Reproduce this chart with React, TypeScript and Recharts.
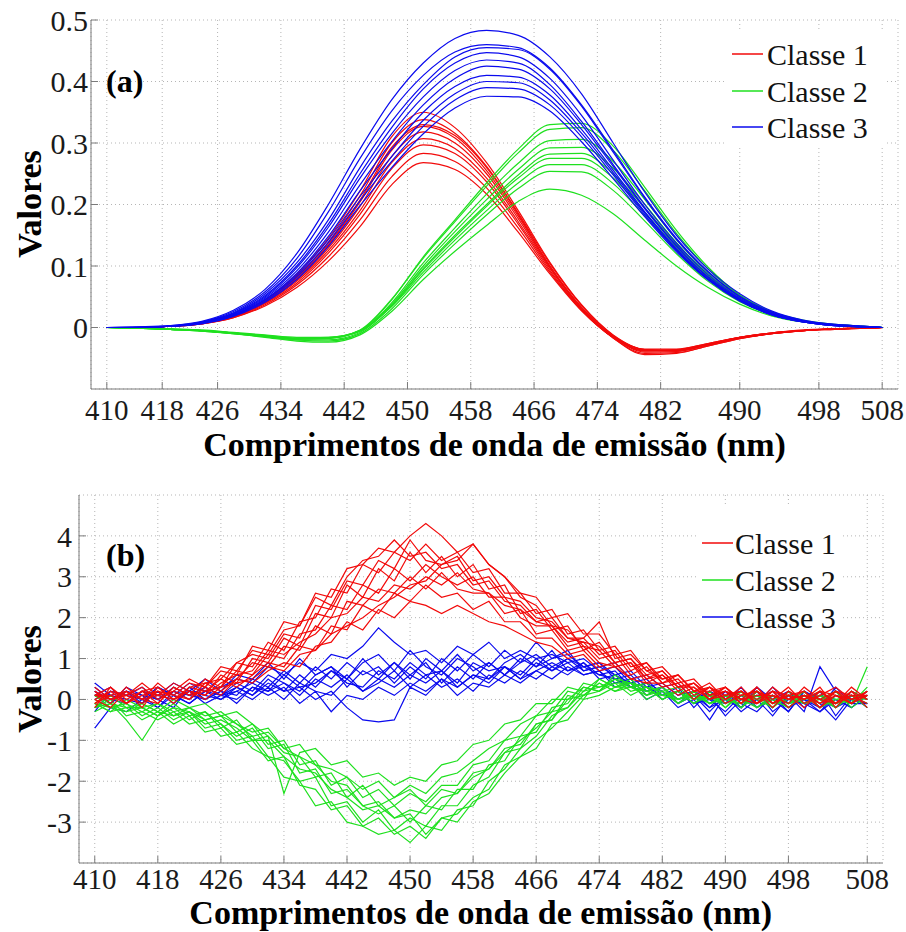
import React from "react"
import { LineChart, Line, XAxis, YAxis, CartesianGrid, Legend } from "recharts"

const FONT = "'Liberation Serif', Tinos, FreeSerif, serif"
const RED = "#f20a0a"
const GREEN = "#1fe01f"
const BLUE = "#0a0aee"
const FRAME = "#7a7a7a"
const GRID = "#b5b5b5"

// ---- panel (a): spectra sampled by variable index, axis labelled in nm at those index positions
const idxA = [0, 2, 4, 6, 8, 10, 12, 14, 16, 18, 20, 22, 24, 26, 28, 30, 32, 34, 36, 38, 40, 42, 44, 46, 48, 49]
const tickIdxA = [0, 3.5, 7, 11, 15, 19, 23, 27, 31, 35, 40, 45, 49]
const tickNm = [410, 418, 426, 434, 442, 450, 458, 466, 474, 482, 490, 498, 508]
const yTicksA = [0, 0.1, 0.2, 0.3, 0.4, 0.5]

const classe1A = [
  [0, 0, 0.002, 0.008, 0.02, 0.045, 0.087, 0.145, 0.222, 0.31, 0.35, 0.325, 0.268, 0.19, 0.106, 0.037, -0.012, -0.036, -0.038, -0.028, -0.017, -0.01, -0.005, -0.003, -0.001, 0],
  [0, 0, 0.002, 0.008, 0.02, 0.044, 0.083, 0.139, 0.214, 0.3, 0.338, 0.316, 0.262, 0.186, 0.104, 0.036, -0.013, -0.036, -0.037, -0.027, -0.016, -0.009, -0.005, -0.002, -0.001, 0],
  [0, 0, 0.002, 0.007, 0.019, 0.042, 0.079, 0.133, 0.204, 0.288, 0.327, 0.308, 0.255, 0.181, 0.1, 0.033, -0.014, -0.037, -0.036, -0.026, -0.016, -0.009, -0.005, -0.002, -0.001, 0],
  [0, 0, 0.002, 0.007, 0.018, 0.041, 0.077, 0.129, 0.197, 0.278, 0.318, 0.3, 0.25, 0.177, 0.098, 0.032, -0.015, -0.04, -0.039, -0.028, -0.017, -0.01, -0.005, -0.002, -0.001, 0],
  [0, 0, 0.002, 0.007, 0.018, 0.04, 0.075, 0.125, 0.19, 0.268, 0.307, 0.291, 0.243, 0.172, 0.096, 0.03, -0.016, -0.038, -0.037, -0.027, -0.016, -0.009, -0.005, -0.003, -0.001, 0],
  [0, 0, 0.002, 0.006, 0.017, 0.039, 0.072, 0.121, 0.184, 0.258, 0.297, 0.283, 0.237, 0.168, 0.093, 0.029, -0.017, -0.042, -0.041, -0.03, -0.018, -0.01, -0.005, -0.002, -0.001, 0],
  [0, 0, 0.002, 0.006, 0.016, 0.037, 0.069, 0.115, 0.175, 0.245, 0.283, 0.27, 0.227, 0.162, 0.09, 0.028, -0.016, -0.038, -0.038, -0.028, -0.017, -0.01, -0.005, -0.002, -0.001, 0],
  [0, 0, 0.002, 0.006, 0.016, 0.035, 0.065, 0.108, 0.164, 0.232, 0.268, 0.257, 0.217, 0.155, 0.087, 0.027, -0.016, -0.035, -0.035, -0.026, -0.016, -0.009, -0.004, -0.002, -0.001, 0],
  [0, 0, 0.002, 0.007, 0.019, 0.043, 0.081, 0.135, 0.207, 0.293, 0.33, 0.312, 0.26, 0.184, 0.1, 0.031, -0.017, -0.044, -0.042, -0.03, -0.018, -0.01, -0.005, -0.002, -0.001, 0],
]

const classe2A = [
  [0, -0.001, -0.003, -0.006, -0.01, -0.015, -0.019, -0.018, -0.005, 0.045, 0.115, 0.175, 0.235, 0.29, 0.33, 0.332, 0.295, 0.228, 0.158, 0.098, 0.053, 0.026, 0.012, 0.005, 0.002, 0],
  [0, -0.001, -0.002, -0.005, -0.009, -0.014, -0.018, -0.017, -0.004, 0.046, 0.113, 0.172, 0.23, 0.284, 0.322, 0.325, 0.288, 0.222, 0.153, 0.095, 0.052, 0.025, 0.011, 0.004, 0.001, 0],
  [0, -0.001, -0.003, -0.005, -0.009, -0.014, -0.018, -0.017, -0.006, 0.04, 0.105, 0.162, 0.217, 0.267, 0.304, 0.306, 0.27, 0.208, 0.143, 0.088, 0.049, 0.024, 0.011, 0.004, 0.001, 0],
  [0, -0.001, -0.003, -0.005, -0.009, -0.013, -0.017, -0.016, -0.005, 0.038, 0.1, 0.156, 0.208, 0.257, 0.292, 0.293, 0.259, 0.2, 0.138, 0.085, 0.047, 0.023, 0.01, 0.004, 0.001, 0],
  [0, -0.001, -0.003, -0.005, -0.009, -0.013, -0.018, -0.017, -0.006, 0.035, 0.094, 0.147, 0.197, 0.243, 0.275, 0.275, 0.243, 0.187, 0.13, 0.081, 0.045, 0.022, 0.01, 0.004, 0.001, 0],
  [0, -0.001, -0.002, -0.004, -0.008, -0.012, -0.016, -0.016, -0.005, 0.034, 0.09, 0.142, 0.19, 0.235, 0.265, 0.265, 0.234, 0.181, 0.126, 0.079, 0.044, 0.022, 0.01, 0.004, 0.001, 0],
  [0, -0.001, -0.003, -0.005, -0.009, -0.014, -0.02, -0.022, -0.01, 0.03, 0.086, 0.136, 0.183, 0.226, 0.254, 0.253, 0.223, 0.173, 0.12, 0.075, 0.042, 0.021, 0.01, 0.004, 0.001, 0],
  [0, -0.001, -0.003, -0.006, -0.01, -0.016, -0.022, -0.024, -0.012, 0.026, 0.078, 0.124, 0.166, 0.205, 0.225, 0.215, 0.185, 0.142, 0.1, 0.065, 0.038, 0.019, 0.009, 0.004, 0.001, 0],
  [0, -0.001, -0.003, -0.005, -0.01, -0.015, -0.02, -0.02, -0.008, 0.036, 0.096, 0.15, 0.2, 0.248, 0.282, 0.283, 0.25, 0.194, 0.135, 0.084, 0.046, 0.023, 0.01, 0.004, 0.001, 0],
]

const classe3A = [
  [0, 0, 0.003, 0.01, 0.028, 0.062, 0.12, 0.2, 0.29, 0.37, 0.43, 0.47, 0.483, 0.475, 0.44, 0.38, 0.3, 0.22, 0.15, 0.095, 0.055, 0.027, 0.012, 0.005, 0.002, 0],
  [0, 0, 0.002, 0.009, 0.026, 0.058, 0.112, 0.188, 0.275, 0.352, 0.41, 0.448, 0.46, 0.455, 0.422, 0.362, 0.288, 0.212, 0.145, 0.091, 0.051, 0.025, 0.011, 0.004, 0.001, 0],
  [0, 0, 0.002, 0.009, 0.024, 0.055, 0.105, 0.175, 0.26, 0.335, 0.395, 0.44, 0.455, 0.452, 0.42, 0.36, 0.285, 0.21, 0.143, 0.09, 0.05, 0.025, 0.011, 0.004, 0.001, 0],
  [0, 0.001, 0.003, 0.009, 0.023, 0.052, 0.1, 0.168, 0.25, 0.325, 0.388, 0.43, 0.447, 0.44, 0.405, 0.345, 0.272, 0.2, 0.137, 0.086, 0.048, 0.024, 0.011, 0.005, 0.002, 0],
  [0, 0, 0.002, 0.008, 0.022, 0.05, 0.097, 0.163, 0.243, 0.315, 0.375, 0.418, 0.435, 0.43, 0.395, 0.335, 0.265, 0.195, 0.133, 0.082, 0.046, 0.022, 0.01, 0.004, 0.001, 0],
  [0, 0, 0.002, 0.008, 0.021, 0.048, 0.092, 0.155, 0.232, 0.302, 0.362, 0.405, 0.425, 0.42, 0.388, 0.33, 0.262, 0.193, 0.132, 0.082, 0.046, 0.023, 0.01, 0.004, 0.001, 0],
  [0, 0, 0.002, 0.007, 0.02, 0.046, 0.088, 0.148, 0.222, 0.29, 0.35, 0.392, 0.41, 0.407, 0.378, 0.322, 0.256, 0.188, 0.128, 0.079, 0.044, 0.021, 0.009, 0.003, 0.001, 0],
  [0, 0.001, 0.002, 0.007, 0.02, 0.045, 0.085, 0.143, 0.213, 0.278, 0.337, 0.38, 0.4, 0.398, 0.37, 0.316, 0.252, 0.186, 0.127, 0.079, 0.044, 0.021, 0.009, 0.003, 0.001, 0],
  [0, 0, 0.002, 0.007, 0.019, 0.043, 0.082, 0.138, 0.206, 0.27, 0.327, 0.37, 0.39, 0.388, 0.362, 0.31, 0.248, 0.183, 0.125, 0.078, 0.043, 0.021, 0.009, 0.003, 0.001, 0],
  [0, 0, 0.002, 0.006, 0.018, 0.041, 0.078, 0.132, 0.198, 0.26, 0.315, 0.357, 0.376, 0.375, 0.352, 0.302, 0.242, 0.18, 0.123, 0.077, 0.043, 0.021, 0.009, 0.003, 0.001, 0],
]

// ---- panel (b): linear wavelength axis
const nmB = [
  410, 412, 414, 416, 418, 420, 422, 424, 426, 428,
  430, 432, 434, 436, 438, 440, 442, 444, 446, 448,
  450, 452, 454, 456, 458, 460, 462, 464, 466, 468,
  470, 472, 474, 476, 478, 480, 482, 484, 486, 488,
  490, 492, 494, 496, 498, 500, 502, 504, 506, 508,
]
const yTicksB = [-3, -2, -1, 0, 1, 2, 3, 4]

const classe1B = [
  [0.2, -0.1, 0.3, 0.0, 0.4, 0.1, 0.4, 0.3, 0.8, 0.7,
   1.2, 1.1, 1.7, 1.8, 2.6, 2.5, 3.2, 3.3, 3.7, 3.6,
   4.0, 4.3, 4.0, 3.6, 3.8, 3.3, 3.0, 2.6, 2.5, 2.0,
   2.1, 1.6, 1.6, 1.1, 1.2, 0.7, 0.8, 0.4, 0.5, 0.1,
   0.3, 0.0, 0.3, -0.1, 0.2, 0.0, 0.3, -0.2, 0.2, 0.0],
  [-0.2, 0.3, 0.0, 0.2, -0.1, 0.3, 0.1, 0.5, 0.3, 0.9,
   0.8, 1.4, 1.2, 1.9, 2.0, 2.7, 2.6, 3.3, 3.1, 3.6,
   3.4, 3.8, 3.4, 3.6, 3.1, 3.2, 2.6, 2.6, 2.1, 2.2,
   1.6, 1.7, 1.2, 1.3, 0.8, 0.9, 0.5, 0.6, 0.2, 0.4,
   0.0, 0.3, -0.1, 0.2, 0.1, -0.2, 0.2, 0.1, -0.1, 0.2],
  [0.1, 0.0, 0.2, -0.2, 0.3, 0.0, 0.2, 0.1, 0.6, 0.4,
   1.0, 0.9, 1.5, 1.3, 2.1, 2.0, 2.8, 2.5, 3.2, 2.9,
   3.6, 3.1, 3.5, 3.0, 3.3, 2.7, 2.8, 2.1, 2.2, 1.7,
   1.8, 1.2, 1.4, 0.9, 1.0, 0.5, 0.7, 0.3, 0.4, 0.0,
   0.3, -0.1, 0.2, 0.0, 0.3, -0.1, 0.1, 0.3, 0.0, 0.1],
  [-0.1, 0.2, -0.1, 0.1, 0.2, -0.1, 0.3, 0.2, 0.3, 0.7,
   0.6, 1.1, 1.0, 1.6, 1.7, 2.3, 2.2, 2.8, 2.6, 3.2,
   2.9, 3.3, 3.0, 2.8, 3.0, 2.5, 2.5, 2.0, 1.8, 1.8,
   1.3, 1.4, 1.0, 1.1, 0.6, 0.8, 0.4, 0.5, 0.1, 0.3,
   0.0, 0.2, 0.0, 0.2, -0.2, 0.1, -0.1, 0.2, 0.1, -0.1],
  [0.3, 0.0, 0.1, 0.3, 0.0, 0.2, 0.0, 0.4, 0.2, 0.5,
   0.9, 0.8, 1.3, 1.2, 1.8, 1.6, 2.4, 2.3, 2.7, 2.6,
   3.0, 2.7, 3.1, 2.7, 2.6, 2.6, 2.1, 2.2, 1.6, 1.7,
   1.2, 1.3, 0.9, 0.8, 0.9, 0.4, 0.6, 0.2, 0.4, 0.1,
   0.2, -0.1, 0.3, -0.1, 0.1, 0.2, -0.2, 0.1, -0.1, 0.2],
  [0.0, -0.2, 0.2, 0.0, -0.1, 0.3, 0.1, 0.2, 0.5, 0.3,
   0.6, 0.9, 0.8, 1.3, 1.2, 1.8, 1.7, 2.3, 2.1, 2.6,
   2.4, 2.8, 2.5, 2.6, 2.2, 2.4, 1.9, 1.9, 1.5, 1.5,
   1.1, 1.2, 0.8, 0.9, 0.5, 0.6, 0.3, 0.4, 0.0, 0.3,
   -0.1, 0.1, 0.2, -0.2, 0.2, 0.0, 0.2, -0.1, 0.2, -0.2],
  [0.1, 0.1, -0.1, 0.2, 0.1, 0.0, 0.2, 0.0, 0.3, 0.4,
   0.5, 0.8, 0.7, 1.1, 1.2, 1.6, 1.8, 2.0, 2.3, 2.5,
   2.8, 2.9, 3.3, 3.4, 3.8, 3.3, 3.0, 2.5, 2.3, 1.8,
   1.7, 1.3, 1.2, 0.8, 0.9, 0.5, 0.6, 0.3, 0.3, 0.0,
   0.2, 0.0, -0.1, 0.2, 0.0, 0.1, 0.0, 0.2, -0.1, 0.1],
  [0.0, 0.2, 0.1, -0.1, 0.2, 0.1, 0.0, 0.3, 0.1, 0.5,
   0.4, 0.7, 0.9, 0.8, 1.3, 1.4, 1.9, 1.7, 2.2, 2.0,
   2.4, 2.3, 2.1, 2.3, 2.1, 1.9, 1.8, 1.6, 1.4, 1.3,
   1.0, 1.1, 0.7, 0.8, 0.5, 0.4, 0.4, 0.1, 0.3, 0.0,
   0.1, 0.2, -0.1, 0.1, 0.0, 0.2, -0.1, 0.1, 0.0, 0.2],
  [0.1, 0.3, -0.1, 0.2, 0.3, 0.0, 0.3, 0.4, 0.5, 0.9,
   1.1, 1.0, 1.6, 1.5, 2.3, 2.2, 2.9, 2.8, 3.4, 3.2,
   3.9, 3.4, 3.3, 3.5, 2.9, 3.0, 2.5, 2.4, 2.0, 1.9,
   1.5, 1.5, 1.1, 1.2, 0.7, 0.9, 0.4, 0.6, 0.2, 0.3,
   0.1, 0.2, -0.1, 0.3, 0.0, 0.1, -0.2, 0.2, 0.0, 0.1],
  [-0.1, 0.1, 0.2, 0.0, 0.1, 0.4, 0.2, 0.1, 0.4, 0.6,
   0.7, 1.2, 1.1, 1.4, 1.6, 2.0, 2.1, 2.5, 2.4, 2.8,
   2.7, 3.0, 2.8, 3.1, 2.7, 2.6, 2.3, 2.2, 1.9, 1.8,
   1.4, 1.5, 1.9, 1.0, 1.1, 0.7, 0.5, 0.6, 0.2, 0.2,
   0.3, 0.0, 0.1, 0.1, -0.1, 0.3, 0.0, -0.1, 0.3, 0.0],
  [0.2, 0.0, 0.1, 0.4, 0.1, 0.2, 0.5, 0.3, 0.7, 0.6,
   1.3, 1.2, 1.9, 1.8, 2.5, 2.3, 3.0, 3.4, 3.5, 3.9,
   3.5, 3.6, 3.2, 3.3, 2.8, 2.9, 2.4, 2.3, 1.9, 2.0,
   1.5, 1.4, 1.3, 0.9, 1.0, 0.6, 0.7, 0.3, 0.4, 0.1,
   0.2, 0.1, 0.2, -0.1, 0.1, 0.0, 0.2, -0.1, 0.1, 0.1],
]

const classe2B = [
  [-0.2, 0.0, -0.4, -0.3, -0.5, -0.3, -0.6, -0.5, -0.9, -0.8,
   -1.2, -1.4, -1.9, -2.0, -2.6, -2.5, -3.0, -3.1, -3.3, -3.2,
   -3.5, -3.1, -3.2, -2.7, -2.6, -2.0, -1.7, -1.2, -0.9, -0.4,
   -0.2, 0.3, 0.2, 0.6, 0.3, 0.4, 0.1, 0.2, -0.1, 0.2,
   -0.2, 0.1, 0.0, -0.2, 0.2, -0.1, 0.1, -0.2, 0.1, -0.1],
  [0.1, -0.2, -0.1, -0.4, -0.2, -0.5, -0.3, -0.7, -0.6, -1.0,
   -0.9, -1.4, -1.5, -2.0, -1.9, -2.6, -2.5, -3.0, -2.7, -3.2,
   -2.9, -3.1, -2.6, -2.6, -2.1, -1.9, -1.3, -1.2, -0.6, -0.5,
   0.1, 0.0, 0.5, 0.3, 0.5, 0.1, 0.3, -0.1, 0.2, -0.1,
   0.1, -0.2, 0.2, 0.0, -0.2, 0.1, -0.1, 0.2, -0.2, 0.1],
  [-0.1, -0.3, 0.0, -0.2, -0.4, -0.1, -0.4, -0.3, -0.6, -0.9,
   -0.7, -1.2, -1.1, -1.8, -1.7, -2.3, -2.2, -2.6, -2.8, -2.6,
   -3.0, -2.6, -2.7, -2.2, -2.2, -1.6, -1.5, -0.9, -0.8, -0.2,
   -0.1, 0.4, 0.3, 0.5, 0.2, 0.3, 0.0, 0.2, 0.0, 0.1,
   -0.2, 0.2, -0.1, 0.1, -0.1, 0.2, -0.2, 0.0, 0.1, 0.0],
  [-0.3, -0.1, -0.5, -1.0, -0.4, -0.2, -0.3, -0.5, -0.4, -0.8,
   -0.6, -1.1, -1.0, -1.6, -1.5, -2.1, -1.9, -2.4, -2.2, -2.6,
   -2.3, -2.5, -2.1, -2.1, -1.6, -1.5, -1.0, -0.9, -0.4, -0.3,
   0.2, 0.1, 0.4, 0.2, 0.4, 0.0, 0.2, -0.1, 0.1, 0.0,
   0.1, -0.2, 0.1, -0.1, 0.0, 0.1, -0.2, 0.1, -0.1, 0.3],
  [0.0, -0.2, -0.1, -0.3, -0.1, -0.3, -0.2, -0.4, -0.3, -0.6,
   -0.8, -0.7, -1.2, -1.1, -1.6, -1.7, -1.9, -2.2, -2.0, -2.4,
   -2.1, -2.3, -1.9, -1.8, -1.5, -1.2, -1.0, -0.6, -0.4, 0.0,
   0.0, 0.3, 0.2, 0.4, 0.1, 0.3, 0.0, 0.2, -0.1, 0.1,
   0.0, -0.1, 0.2, -0.1, 0.1, 0.0, 0.2, -0.1, 0.0, 0.2],
  [-0.2, 0.1, -0.2, -0.1, -0.3, 0.0, -0.2, -0.1, -0.4, -0.3,
   -0.6, -0.9, -2.3, -1.3, -1.2, -1.6, -1.5, -1.9, -1.8, -2.1,
   -1.9, -2.0, -1.6, -1.5, -1.1, -1.0, -0.6, -0.5, -0.1, -0.1,
   0.3, 0.2, 0.5, 0.3, 0.3, 0.1, 0.2, 0.0, 0.1, -0.1,
   0.1, 0.0, -0.2, 0.1, -0.1, 0.1, 0.0, -0.2, 0.1, 0.0],
  [-0.1, -0.2, -0.3, -0.1, -0.3, -0.4, -0.2, -0.5, -0.4, -0.6,
   -0.9, -0.8, -1.2, -1.4, -1.6, -2.0, -2.1, -2.6, -2.5, -2.9,
   -2.8, -3.3, -2.9, -3.0, -2.5, -2.3, -1.8, -1.4, -1.2, -0.6,
   -0.5, 0.0, 0.1, 0.3, 0.4, 0.2, 0.3, 0.0, 0.2, -0.1,
   0.1, 0.0, 0.1, -0.2, 0.1, -0.1, 0.0, 0.2, -0.1, 0.8],
  [-0.2, -0.1, -0.3, -0.2, -0.1, -0.4, -0.3, -0.6, -0.5, -0.7,
   -1.0, -1.0, -1.4, -1.7, -1.8, -2.2, -2.4, -2.7, -2.6, -2.9,
   -2.7, -2.8, -2.4, -2.3, -1.9, -1.7, -1.3, -1.0, -0.7, -0.3,
   -0.2, 0.2, 0.3, 0.4, 0.4, 0.2, 0.1, 0.2, 0.0, 0.1,
   -0.1, 0.1, 0.0, 0.1, -0.1, 0.0, 0.1, -0.1, 0.1, -0.2],
  [0.1, -0.1, -0.2, -0.2, -0.4, -0.2, -0.5, -0.3, -0.7, -0.5,
   -1.0, -0.9, -1.3, -1.4, -1.9, -1.8, -2.4, -2.1, -2.6, -2.4,
   -2.2, -2.6, -2.2, -2.3, -1.8, -1.7, -1.2, -1.1, -0.6, -0.5,
   0.0, 0.1, 0.4, 0.2, 0.3, 0.2, 0.1, 0.0, 0.2, -0.1,
   0.0, 0.2, -0.2, 0.0, 0.1, -0.1, 0.1, 0.0, -0.1, 0.1],
  [-0.1, -0.3, -0.2, -0.5, -0.3, -0.6, -0.4, -0.8, -0.7, -1.1,
   -1.0, -1.5, -1.4, -2.1, -2.2, -2.7, -2.6, -3.1, -2.9, -3.3,
   -3.1, -3.4, -2.9, -2.8, -2.4, -2.2, -1.6, -1.4, -1.0, -0.7,
   -0.3, 0.1, 0.2, 0.5, 0.4, 0.3, 0.2, 0.3, 0.0, 0.1,
   0.0, -0.1, 0.1, 0.0, -0.2, 0.1, 0.0, -0.1, 0.2, 0.0],
]

const classe3B = [
  [0.3, 0.0, 0.2, -0.1, 0.3, 0.1, 0.4, 0.2, 0.3, 0.5,
   0.4, 0.8, 0.6, 0.9, 0.7, 1.1, 1.0, 1.3, 1.75, 1.4,
   1.1, 1.2, 0.9, 1.3, 1.1, 1.4, 1.0, 1.2, 1.0, 1.1,
   0.9, 1.0, 0.7, 0.8, 0.4, 0.5, 0.1, 0.3, -0.2, 0.2,
   -0.1, 0.3, -0.2, 0.1, -0.3, 0.2, 0.0, -0.2, 0.2, 0.0],
  [-0.7, -0.2, -0.3, 0.0, -0.2, 0.1, -0.1, 0.2, 0.0, 0.3,
   0.1, 0.4, 0.2, 0.3, 0.0, 0.2, -0.2, -0.5, -0.55, -0.5,
   0.3, 0.1, 0.5, 0.3, 0.6, 0.4, 0.8, 0.5, 0.9, 0.7,
   0.9, 0.6, 0.7, 0.4, 0.5, 0.1, 0.3, -0.1, 0.1, -0.3,
   0.1, -0.2, 0.2, -0.3, 0.0, -0.1, 0.2, -0.4, 0.1, -0.2],
  [0.1, 0.3, -0.1, 0.2, 0.0, 0.3, 0.1, 0.0, 0.2, 0.1,
   0.5, 0.3, 0.7, 0.4, 0.8, 0.5, 0.9, 0.6, 0.8, 0.4,
   0.8, 0.5, 1.0, 0.7, 1.1, 0.8, 1.2, 0.9, 1.4, 1.0,
   1.1, 0.8, 0.9, 0.5, 0.6, 0.2, 0.3, 0.0, 0.2, -0.2,
   0.2, 0.0, -0.1, 0.3, -0.1, 0.0, -0.3, 0.1, 0.0, 0.1],
  [-0.2, 0.1, 0.0, -0.1, 0.2, -0.1, 0.2, 0.1, 0.0, 0.2,
   0.0, 0.3, 0.0, 0.4, 0.2, 0.1, 0.5, 0.2, 0.4, 0.7,
   0.3, 0.6, 0.3, 0.5, 0.2, 0.6, 0.4, 0.7, 0.5, 0.8,
   0.6, 0.9, 0.5, 0.6, 0.3, 0.4, 0.0, 0.2, -0.1, 0.1,
   -0.4, 0.0, 0.1, -0.2, 0.2, -0.1, -0.3, 0.0, -0.2, 0.1],
  [0.2, -0.1, 0.3, 0.1, -0.2, 0.2, 0.0, 0.3, 0.1, 0.4,
   0.2, 0.6, 0.4, 0.2, 0.6, 0.8, 0.3, 0.7, 0.5, 0.9,
   0.6, 0.9, 0.4, 0.8, 0.5, 0.9, 0.6, 1.0, 0.8, 1.2,
   0.7, 0.9, 0.6, 0.7, 0.3, 0.4, 0.2, -0.1, 0.2, 0.0,
   -0.3, 0.1, 0.0, -0.4, 0.1, 0.0, -0.2, 0.3, -0.1, -0.1],
  [0.0, 0.2, 0.1, 0.3, 0.0, -0.2, 0.3, 0.0, 0.2, -0.1,
   0.3, 0.1, 0.3, -0.1, 0.2, -0.3, 0.1, 0.0, 0.3, 0.1,
   0.4, 0.2, 0.5, 0.1, 0.4, 0.3, 0.6, 0.4, 0.7, 0.5,
   0.8, 0.6, 0.7, 0.3, 0.4, 0.0, 0.2, -0.2, 0.0, -0.5,
   0.1, -0.3, 0.0, 0.2, -0.2, 0.1, -0.1, -0.5, 0.0, -0.1],
  [0.4, 0.1, 0.2, 0.0, 0.1, 0.4, 0.2, 0.5, 0.2, 0.6,
   0.5, 0.9, 0.5, 1.0, 0.6, 0.8, 0.5, 0.9, 1.1, 0.7,
   1.2, 0.8, 0.6, 1.0, 0.8, 0.5, 0.9, 1.1, 0.8, 1.0,
   1.2, 0.7, 0.8, 0.9, 0.5, 0.6, 0.3, 0.4, 0.0, 0.2,
   0.0, -0.2, 0.3, 0.0, 0.1, -0.3, 0.8, 0.2, -0.1, 0.2],
  [0.2, 0.0, -0.1, 0.2, 0.1, 0.0, 0.2, -0.1, 0.1, 0.3,
   0.1, 0.5, 0.2, 0.6, 0.3, 0.7, 0.4, 0.3, 0.7, 0.5,
   0.9, 0.6, 0.7, 0.4, 0.9, 0.7, 0.8, 0.6, 1.0, 0.7,
   1.0, 0.7, 0.8, 0.6, 0.4, 0.3, 0.1, 0.2, -0.1, 0.0,
   0.2, -0.2, 0.1, 0.0, -0.3, 0.2, 0.0, -0.1, 0.1, 0.0],
  [-0.3, 0.2, 0.1, 0.0, 0.3, 0.1, -0.1, 0.2, 0.1, 0.0,
   0.3, 0.2, 0.4, 0.1, 0.5, 0.3, 0.6, 0.2, 0.5, 0.3,
   0.6, 0.4, 0.7, 0.3, 0.6, 0.5, 0.8, 0.5, 0.7, 0.9,
   0.7, 0.8, 0.6, 0.5, 0.3, 0.2, 0.3, 0.0, 0.1, -0.2,
   0.0, -0.1, -0.3, 0.1, -0.2, 0.0, 0.1, -0.2, 0.0, -0.1],
  [0.1, -0.1, 0.2, 0.1, 0.0, 0.2, 0.1, 0.3, 0.1, 0.2,
   0.4, 0.2, 0.6, 0.3, 0.4, 0.7, 0.5, 1.0, 0.6, 0.9,
   0.5, 1.0, 0.7, 1.1, 0.7, 0.9, 0.6, 0.9, 1.1, 0.8,
   1.0, 0.8, 0.9, 0.6, 0.7, 0.3, 0.4, 0.1, 0.2, 0.0,
   -0.1, 0.1, -0.2, 0.0, 0.2, -0.2, 0.1, 0.0, -0.2, 0.1],
]

const classes = [
  { name: "Classe 1", color: RED },
  { name: "Classe 2", color: GREEN },
  { name: "Classe 3", color: BLUE },
]

function buildRows(xs: number[], groups: Record<string, number[][]>) {
  return xs.map((x, j) => {
    const row: Record<string, number> = { x }
    Object.entries(groups).forEach(([key, lines]) => {
      lines.forEach((vals, k) => {
        row[`${key}_${k}`] = vals[j]
      })
    })
    return row
  })
}

const rowsA = buildRows(idxA, { c1: classe1A, c2: classe2A, c3: classe3A })
const rowsB = buildRows(nmB, { c1: classe1B, c2: classe2B, c3: classe3B })

const tickStyle = { fontFamily: FONT, fontSize: 30, fill: "#1a1a1a" }
const xTickStyle = { fontFamily: FONT, fontSize: 29, fill: "#1a1a1a" }

function AxisTitle(props: any) {
  const { px, py, rot, text } = props
  return (
    <text
      x={px}
      y={py}
      transform={rot ? `rotate(${rot} ${px} ${py})` : undefined}
      textAnchor="middle"
      fontFamily={FONT}
      fontWeight="bold"
      fontSize={34}
      fill="#000"
    >
      {text}
    </text>
  )
}

function LegendBox({ rowY, lineX1, lineX2, textX, width, height }: any) {
  return (
    <svg width={width} height={height} style={{ display: "block", background: "#fff" }}>
      {classes.map((c, i) => (
        <g key={c.name}>
          <line x1={lineX1} x2={lineX2} y1={rowY[i]} y2={rowY[i]} stroke={c.color} strokeWidth={1.5} />
          <text x={textX} y={rowY[i]} dominantBaseline="central" fontFamily={FONT} fontSize={30} fill="#111">
            {c.name}
          </text>
        </g>
      ))}
    </svg>
  )
}

function seriesLines(rows: string, groups: [string, number[][], string][], curve: "monotone" | "linear") {
  const out: React.ReactNode[] = []
  groups.forEach(([key, lines, color]) => {
    lines.forEach((_, k) => {
      out.push(
        <Line
          key={`${rows}-${key}-${k}`}
          dataKey={`${key}_${k}`}
          type={curve}
          stroke={color}
          strokeWidth={1.2}
          dot={false}
          activeDot={false}
          legendType="none"
          isAnimationActive={false}
        />
      )
    })
  })
  return out
}

function PanelA() {
  return (
    <LineChart width={906} height={470} data={rowsA} margin={{ top: 20, right: 8, left: 0, bottom: 0 }}>
      <CartesianGrid stroke={GRID} strokeDasharray="1 3" />
      <XAxis
        dataKey="x"
        type="number"
        domain={[-1, 50]}
        ticks={tickIdxA}
        interval={0}
        tickFormatter={(v: number) => String(tickNm[tickIdxA.indexOf(v)])}
        height={81}
        tickSize={-7}
        tickMargin={17}
        tick={xTickStyle}
        stroke={FRAME}
        label={<AxisTitle px={494.5} py={456} text="Comprimentos de onda de emissão (nm)" />}
      />
      <XAxis xAxisId="top" orientation="top" type="number" domain={[-1, 50]} ticks={tickIdxA} height={0} tickSize={-7} tick={false} stroke={FRAME} />
      <YAxis
        type="number"
        domain={[-0.1, 0.5]}
        ticks={yTicksA}
        interval={0}
        width={91}
        tickSize={-7}
        tickMargin={10}
        tick={tickStyle}
        stroke={FRAME}
        label={<AxisTitle px={41} py={204} rot={-90} text="Valores" />}
      />
      <YAxis yAxisId="right" orientation="right" type="number" domain={[-0.1, 0.5]} ticks={yTicksA} width={0} tickSize={-7} tick={false} stroke={FRAME} />
      {seriesLines("a", [["c1", classe1A, RED], ["c2", classe2A, GREEN], ["c3", classe3A, BLUE]], "monotone")}
      <Legend
        align="center"
        layout="vertical"
        verticalAlign="middle"
        wrapperStyle={{ left: 727, top: 30, width: 160, height: 118 }}
        content={() => <LegendBox rowY={[24, 61, 97]} lineX1={5} lineX2={36} textX={40} width={160} height={118} />}
      />
    </LineChart>
  )
}

function PanelB() {
  return (
    <LineChart width={906} height={462} data={rowsB} margin={{ top: 25, right: 23, left: 0, bottom: 0 }}>
      <CartesianGrid stroke={GRID} strokeDasharray="1 3" />
      <XAxis
        dataKey="x"
        type="number"
        domain={[408, 510]}
        ticks={tickNm}
        interval={0}
        height={69}
        tickSize={-7}
        tickMargin={12}
        tick={xTickStyle}
        stroke={FRAME}
        label={<AxisTitle px={480.7} py={454} text="Comprimentos de onda de emissão (nm)" />}
      />
      <XAxis xAxisId="top" orientation="top" type="number" domain={[408, 510]} ticks={tickNm} height={0} tickSize={-7} tick={false} stroke={FRAME} />
      <YAxis
        type="number"
        domain={[-4, 5]}
        ticks={yTicksB}
        interval={0}
        width={79}
        tickSize={-7}
        tickMargin={14}
        tick={tickStyle}
        stroke={FRAME}
        label={<AxisTitle px={41} py={209} rot={-90} text="Valores" />}
      />
      <YAxis yAxisId="right" orientation="right" type="number" domain={[-4, 5]} ticks={yTicksB} width={0} tickSize={-7} tick={false} stroke={FRAME} />
      {seriesLines("b", [["c3", classe3B, BLUE], ["c2", classe2B, GREEN], ["c1", classe1B, RED]], "linear")}
      <Legend
        align="center"
        layout="vertical"
        verticalAlign="middle"
        wrapperStyle={{ left: 697, top: 35, width: 143, height: 132 }}
        content={() => <LegendBox rowY={[38, 75, 112]} lineX1={5} lineX2={36} textX={38} width={143} height={132} />}
      />
    </LineChart>
  )
}

const panelTag = { position: "absolute" as const, left: 106, fontFamily: FONT, fontWeight: "bold" as const, fontSize: 32, lineHeight: "32px" }

export default function App() {
  return (
    <div style={{ position: "relative", width: 906, height: 932, background: "#fff", overflow: "hidden", fontFamily: FONT }}>
      <style>{"body{margin:0}"}</style>
      <div style={{ position: "absolute", left: 0, top: 0 }}>
        <PanelA />
      </div>
      <div style={{ position: "absolute", left: 0, top: 470 }}>
        <PanelB />
      </div>
      <div style={{ ...panelTag, top: 65 }}>(a)</div>
      <div style={{ ...panelTag, top: 539 }}>(b)</div>
    </div>
  )
}
